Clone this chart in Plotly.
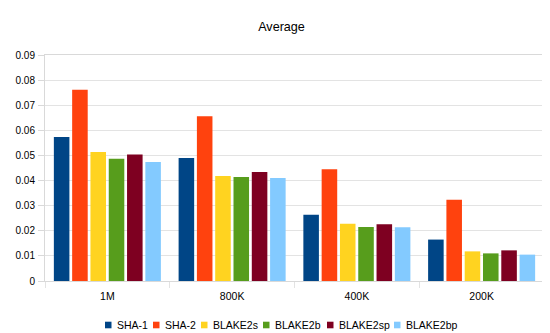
import plotly.graph_objects as go

categories = ["1M", "800K", "400K", "200K"]
series_names = ["SHA-1", "SHA-2", "BLAKE2s", "BLAKE2b", "BLAKE2sp", "BLAKE2bp"]
sha1 = [0.0573, 0.0490, 0.0264, 0.0165]
sha2 = [0.0762, 0.0656, 0.0445, 0.0324]
blake2s = [0.0514, 0.0418, 0.0228, 0.0118]
blake2b = [0.0487, 0.0414, 0.0215, 0.0110]
blake2sp = [0.0504, 0.0434, 0.0226, 0.0122]
blake2bp = [0.0474, 0.0410, 0.0214, 0.0105]
colors = ["#004586", "#ff420e", "#ffd320", "#579d1c", "#7e0021", "#83caff"]
tick_vals = [0, 0.01, 0.02, 0.03, 0.04, 0.05, 0.06, 0.07, 0.08, 0.09]
tick_text = ["0", "0.01", "0.02", "0.03", "0.04", "0.05", "0.06", "0.07", "0.08", "0.09"]

W, H = 550, 333
L, R, T, B = 37, 14, 47, 60
pw, ph = W - L - R, H - T - B

fig = go.Figure()
for name, vals, c in zip(series_names, [sha1, sha2, blake2s, blake2b, blake2sp, blake2bp], colors):
    fig.add_trace(go.Bar(x=categories, y=vals, name=name, marker=dict(color=c, line=dict(width=0))))

# compact legend below the plot (symbol left edges in pixels)
legend_x = [97, 145, 193, 255, 319, 386]
legend_y = 317
shapes = []
annotations = []
for name, c, lx in zip(series_names, colors, legend_x):
    x0 = (lx - L) / pw
    x1 = (lx + 6.5 - L) / pw
    y0 = (H - B - (legend_y + 3.3)) / ph
    y1 = (H - B - (legend_y - 3.3)) / ph
    shapes.append(dict(type="rect", xref="paper", yref="paper", x0=x0, x1=x1, y0=y0, y1=y1,
                       fillcolor=c, line=dict(width=0)))
    annotations.append(dict(text=name, xref="paper", yref="paper",
                            x=(lx + 10 - L) / pw, y=(H - B - legend_y) / ph,
                            xanchor="left", yanchor="middle", showarrow=False,
                            font=dict(size=10.5, color="black")))

fig.update_layout(
    width=W, height=H,
    margin=dict(l=L, r=R, t=T, b=B, autoexpand=False),
    paper_bgcolor="white", plot_bgcolor="white",
    font=dict(family="Liberation Sans, Arial, sans-serif", size=10.5, color="black"),
    title=dict(text="Average", x=273.5 / W, xanchor="center",
               y=1 - 18.3 / H, yanchor="middle", font=dict(size=12.6, color="black")),
    barmode="group", bargap=0.12, bargroupgap=0.15,
    showlegend=False,
    shapes=shapes, annotations=annotations,
    xaxis=dict(showline=True, linecolor="#d9d9d9", mirror=True, ticks="outside",
               tickson="boundaries", ticklen=6, tickcolor="#e3e3e3", showgrid=False,
               tickfont=dict(size=10.5), ticklabelstandoff=5),
    yaxis=dict(range=[0, 0.09], tickvals=tick_vals, ticktext=tick_text, showgrid=True,
               gridcolor="#e3e3e3", showline=True, linecolor="#d9d9d9", mirror=True,
               zeroline=False, ticks="outside", ticklen=6, tickcolor="#d9d9d9",
               tickfont=dict(size=10), ticklabelstandoff=1),
)
fig.write_html("out.html")
